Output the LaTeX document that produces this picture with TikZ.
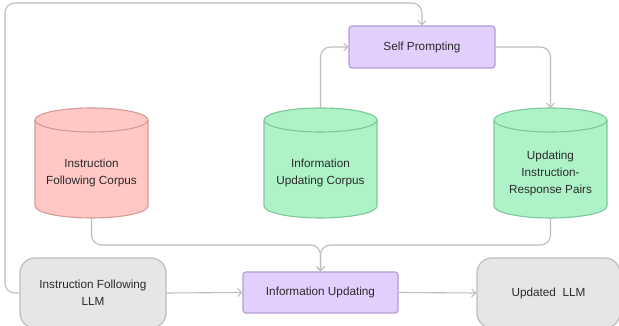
\documentclass[tikz,border=0pt]{standalone}
\usepackage{fontspec}
\setmainfont{Liberation Sans}
\usetikzlibrary{arrows.meta}
\definecolor{linegray}{HTML}{BDBDBD}
\definecolor{txt}{HTML}{2A2A2A}
\definecolor{purfill}{HTML}{E3CFFD}
\definecolor{purdraw}{HTML}{B49CD6}
\definecolor{pinkfill}{HTML}{FFC8C4}
\definecolor{pinkdraw}{HTML}{D49A96}
\definecolor{grnfill}{HTML}{AEF3C8}
\definecolor{grndraw}{HTML}{7DC79B}
\definecolor{grayfill}{HTML}{E6E6E6}
\definecolor{graydraw}{HTML}{BCBCBC}
\tikzset{
  lbl/.style={text=txt, font=\fontsize{11.75}{17}\selectfont, align=center},
  procbox/.style={lbl, draw=purdraw, fill=purfill, line width=1.2pt, rounded corners=3pt, inner sep=0pt},
  llmbox/.style={lbl, draw=graydraw, fill=grayfill, line width=1.2pt, rounded corners=15pt, inner sep=0pt},
  conn/.style={draw=linegray, line width=1.1pt, rounded corners=10pt, -{Straight Barb[length=4pt,width=8pt]}},
  cylpink/.style={draw=pinkdraw, fill=pinkfill, line width=1.1pt},
  cylgrn/.style={draw=grndraw, fill=grnfill, line width=1.1pt}
}
\begin{document}
\begin{tikzpicture}[x=1pt,y=1pt]
\useasboundingbox (0,0) rectangle (619,326);
% boxes
\node[procbox, minimum width=146pt, minimum height=42pt] (sp) at (422,279) {Self Prompting};
\node[procbox, minimum width=155pt, minimum height=41pt] (iu) at (320.5,33.5) {Information Updating};
\node[llmbox, minimum width=146pt, minimum height=70pt] (ifl) at (93,33) {Instruction Following\\LLM};
\node[llmbox, minimum width=143pt, minimum height=70pt] (ul) at (548.5,33) {Updated\ \ LLM};
% cylinders
\foreach \cx/\sty in {91.5/cylpink, 320.5/cylgrn, 550.5/cylgrn}{
  \path[\sty] (\cx-56.5,206) -- (\cx-56.5,120) arc (180:360:56.5 and 12) -- (\cx+56.5,206) arc (0:180:56.5 and 12) -- cycle;
  \draw[\sty, fill=none] (\cx-56.5,206) arc (180:360:56.5 and 12);
}
\node[lbl] (ifc) at (91.5,153) {Instruction\\Following Corpus};
\node[lbl] (iuc) at (320.5,153) {Information\\Updating Corpus};
\node[lbl] (uirp) at (550.5,153) {Updating\\Instruction-\\Response Pairs};
\coordinate (ifcT) at (91.5,218);
\coordinate (ifcB) at (91.5,108);
\coordinate (iucT) at (320.5,218);
\coordinate (uirpT) at (550.5,218);
\coordinate (uirpB) at (550.5,108);
\coordinate (topL) at (5,323);
\coordinate (merge) at (320.5,81);
% connectors
\draw[conn] (ifl.west) -| (topL) -| (sp.north);
\draw[conn] (iucT) |- (sp.west);
\draw[conn] (sp.east) -| (uirpT);
\draw[conn] (ifcB) |- (merge) -- (iu.north);
\draw[conn] (uirpB) |- (merge) -- (iu.north);
\draw[conn, rounded corners=0pt] (ifl.east) -- (iu.west);
\draw[conn, rounded corners=0pt] (iu.east) -- (ul.west);
\end{tikzpicture}
\end{document}
